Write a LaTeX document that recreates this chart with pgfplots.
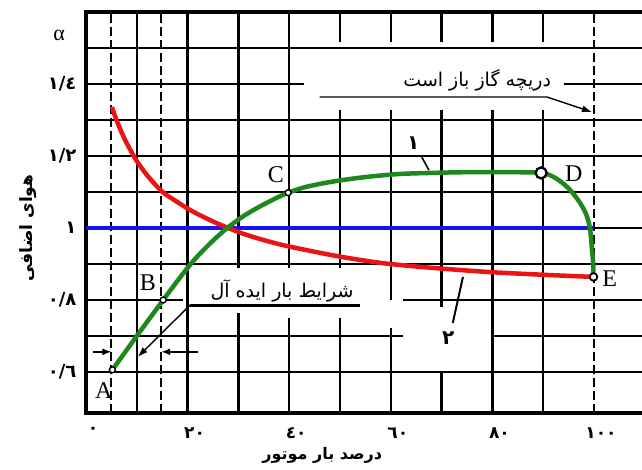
\documentclass[border=0pt]{standalone}
\usepackage{pgfplots}
\pgfplotsset{compat=1.18}
\usepackage{fontspec}
\setmainfont{Liberation Serif}
\newfontfamily\ar[Script=Arabic]{DejaVu Sans}
\usetikzlibrary{arrows.meta}
\TeXXeTstate=1
\definecolor{cgreen}{RGB}{30,135,30}
\definecolor{cred}{RGB}{235,20,20}
\definecolor{cblue}{RGB}{20,20,235}
\begin{document}
\begin{tikzpicture}
\begin{axis}[name=ax, scale only axis, width=556pt, height=401pt,
 xmin=0, xmax=109.45, ymin=0.486, ymax=1.6, clip=false,
 axis line style={draw=none}, tick style={draw=none},
 xtick={0,20,40,60,80,100}, xticklabels={٠,٢٠,٤٠,٦٠,٨٠,١٠٠},
 ytick={0.6,0.8,1,1.2,1.4}, yticklabels={٠/٦,٠/٨,١,١/٢,١/٤},
 xticklabel style={font=\ar\bfseries\fontsize{17}{17}\selectfont, xshift=7pt, yshift=-11pt},
 yticklabel style={font=\ar\bfseries\fontsize{18}{18}\selectfont, xshift=-6pt},
 unbounded coords=jump,
]
% grid: vertical solid
\addplot[black, line width=2.4pt] coordinates {
 (10,0.486) (10,1.6) (10,inf)
 (20,0.486) (20,1.6) (20,inf)
 (30,0.889) (30,1.6) (30,inf) (30,0.486) (30,0.764) (30,inf)
 (40,0.889) (40,1.6) (40,inf) (40,0.486) (40,0.75) (40,inf)
 (50,1.517) (50,1.6) (50,inf) (50,0.889) (50,1.328) (50,inf) (50,0.486) (50,0.75) (50,inf)
 (60,1.517) (60,1.6) (60,inf) (60,0.8) (60,1.328) (60,inf) (60,0.486) (60,0.722) (60,inf)
 (70,1.517) (70,1.6) (70,inf) (70,0.78) (70,1.328) (70,inf) (70,0.486) (70,0.597) (70,inf)
 (80,1.517) (80,1.6) (80,inf) (80,0.486) (80,1.328) (80,inf)
 (90,1.517) (90,1.6) (90,inf) (90,0.486) (90,1.328)
};
% grid: vertical dashed
\addplot[black, line width=2pt, dash pattern=on 9pt off 4pt] coordinates {
 (5,0.486) (5,1.6) (5,inf)
 (14.8,0.486) (14.8,1.6) (14.8,inf)
 (100,0.486) (100,1.6)
};
% grid: horizontal
\addplot[black, line width=2.4pt] coordinates {
 (0,1.5) (109.45,1.5) (inf,1.5)
 (0,1.4) (43,1.4) (inf,1.4) (94,1.4) (109.45,1.4) (inf,1.4)
 (0,1.3) (109.45,1.3) (inf,1.3)
 (0,1.2) (109.45,1.2) (inf,1.2)
 (0,1.1) (109.45,1.1) (inf,1.1)
 (0,1.0) (109.45,1.0) (inf,1.0)
 (0,0.9) (109.45,0.9) (inf,0.9)
 (0,0.8) (19,0.8) (inf,0.8) (62.5,0.8) (109.45,0.8) (inf,0.8)
 (20.5,0.785) (54,0.785) (inf,0.785)
 (0,0.7) (62.5,0.7) (inf,0.7) (80,0.7) (109.45,0.7) (inf,0.7)
 (0,0.6) (109.45,0.6)
};
% frame
\addplot[black, line width=3.2pt] coordinates {(109.45,1.6) (0,1.6) (0,0.486) (109.45,0.486)};
% annotation leaders
\addplot[black, line width=1.4pt, -{Latex[length=10pt,width=7pt]}] coordinates {(46,1.364) (90.7,1.364) (99.6,1.322)};
\addplot[black, line width=1.4pt, -{Latex[length=10pt,width=7pt]}] coordinates {(20.5,0.786) (10.2,0.642)};
\addplot[black, line width=1.6pt, -{Latex[length=9pt,width=7pt]}] coordinates {(1.4,0.656) (5,0.656)};
\addplot[black, line width=1.6pt, -{Latex[length=9pt,width=7pt]}] coordinates {(22,0.656) (14.8,0.656)};
\addplot[black, line width=1.6pt] coordinates {(66.1,1.197) (67.5,1.161)};
\addplot[black, line width=2pt] coordinates {(72.2,0.736) (74.2,0.864)};
% blue line
\addplot[cblue, line width=4pt] coordinates {(0,1) (100,1)};
% red curve 2
\addplot[cred, line width=4.5pt, smooth, tension=0.5] coordinates {
 (5.1,1.336) (6,1.300) (7,1.266) (8,1.236) (9,1.210) (10,1.186) (12,1.147) (15,1.101)
 (18,1.072) (21,1.046) (25,1.018) (28,1.0) (32,0.979) (38,0.955) (45,0.934) (51,0.918)
 (58,0.903) (65,0.893) (72,0.885) (80,0.877) (90,0.87) (99.9,0.864)};
% green curve 1
\addplot[cgreen, line width=4.5pt, smooth, tension=0.5] coordinates {
 (5.2,0.606) (10,0.7) (15.2,0.8) (18,0.853) (21.1,0.908) (24.5,0.958) (27.8,1.0)
 (31,1.033) (34,1.058) (37,1.08) (39.8,1.098) (43,1.113) (47,1.125) (51.4,1.135)
 (56,1.143) (61.7,1.15) (68,1.153) (75,1.155) (82,1.155) (89.6,1.153)
 (92.5,1.138) (95,1.11) (97,1.075) (98.4,1.04) (99.2,1.0) (99.6,0.94) (99.85,0.9) (99.9,0.864)};
% markers
\addplot[only marks, mark=*, mark size=3pt, mark options={fill=white, draw=black, line width=1.4pt}]
 coordinates {(5.2,0.606) (15.2,0.8) (39.8,1.098)};
\addplot[only marks, mark=*, mark size=3.8pt, mark options={fill=white, draw=black, line width=1.8pt}]
 coordinates {(99.9,0.864)};
\addplot[only marks, mark=*, mark size=5.5pt, mark options={fill=white, draw=black, line width=2.3pt}]
 coordinates {(89.6,1.153)};
% texts
\node[font=\fontsize{24}{24}\selectfont] at (axis cs:3.5,0.547) {A};
\node[font=\fontsize{24}{24}\selectfont] at (axis cs:12.2,0.847) {B};
\node[font=\fontsize{24}{24}\selectfont] at (axis cs:37.4,1.147) {C};
\node[font=\fontsize{24}{24}\selectfont] at (axis cs:96,1.15) {D};
\node[font=\fontsize{24}{24}\selectfont] at (axis cs:103.1,0.858) {E};
\node[font=\fontsize{22}{22}\selectfont] at (axis cs:-5.3,1.536) {α};
\node[font=\ar\bfseries\fontsize{20}{20}\selectfont] at (axis cs:64.4,1.236) {١};
\node[font=\ar\bfseries\fontsize{20}{20}\selectfont] at (axis cs:71.3,0.694) {٢};
\node[font=\ar\fontsize{19}{19}\selectfont] at (axis cs:77,1.411) {\beginR دریچه گاز باز است\endR};
\node[font=\ar\fontsize{19}{19}\selectfont] at (axis cs:38.6,0.825) {\beginR شرایط بار ایده آل\endR};
\node[font=\ar\bfseries\fontsize{16}{16}\selectfont] at (axis cs:46.5,0.369) {\beginR درصد بار موتور\endR};
\node[rotate=90, font=\ar\bfseries\fontsize{17}{17}\selectfont] at (axis cs:-11.4,1.0) {\beginR هوای اضافی\endR};
\end{axis}
\pgfresetboundingbox
\path ([shift={(-86pt,-56pt)}]ax.south west) rectangle ([shift={(0pt,12pt)}]ax.north east);
\end{tikzpicture}
\end{document}
